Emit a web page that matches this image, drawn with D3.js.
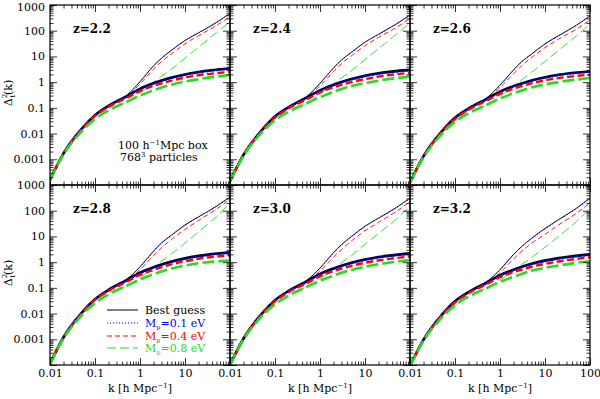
<!DOCTYPE html>
<html>
<head>
<meta charset="utf-8">
<script src="https://d3js.org/d3.v7.min.js"></script>
<style>
  body { margin: 0; background: #fff; }
  text { font-family: "DejaVu Serif", "Liberation Serif", serif; }
</style>
</head>
<body>
<script>
// wavenumbers (h/Mpc) for the linear (thick) and non-linear (thin) curves
const kLin = [0.01, 0.02, 0.05, 0.1, 0.2, 0.5, 1, 2, 5, 20, 100];
const kNL = [0.3, 0.5, 1, 2, 3, 5, 10, 20, 50, 100];
const zLabels = ["z=2.2", "z=2.4", "z=2.6", "z=2.8", "z=3.0", "z=3.2"];
const legendLabels = ["Best guess", "0.1", "0.4", "0.8"];

// linear power, one row per panel
const linBest = [
  [1.6e-4, 1.7e-3, 0.015, 0.052, 0.12, 0.28, 0.55, 0.9, 1.5, 2.5, 3.4],
  [1.4e-4, 1.5e-3, 0.013, 0.046, 0.105, 0.25, 0.48, 0.79, 1.32, 2.2, 3.0],
  [1.25e-4, 1.33e-3, 0.0117, 0.041, 0.094, 0.22, 0.43, 0.7, 1.17, 1.95, 2.6],
  [1.12e-4, 1.2e-3, 0.0105, 0.036, 0.084, 0.2, 0.39, 0.63, 1.05, 1.75, 2.4],
  [1.0e-4, 1.07e-3, 0.0095, 0.033, 0.076, 0.18, 0.35, 0.57, 0.95, 1.58, 2.2],
  [0.92e-4, 0.97e-3, 0.0086, 0.03, 0.068, 0.16, 0.31, 0.51, 0.86, 1.43, 2.0]
];
const linM01 = [
  [1.6e-4, 1.7e-3, 0.015, 0.051, 0.118, 0.275, 0.53, 0.87, 1.45, 2.4, 3.3],
  [1.4e-4, 1.5e-3, 0.013, 0.045, 0.104, 0.24, 0.47, 0.77, 1.28, 2.1, 2.9],
  [1.25e-4, 1.33e-3, 0.0117, 0.04, 0.092, 0.215, 0.41, 0.68, 1.13, 1.87, 2.55],
  [1.12e-4, 1.2e-3, 0.0105, 0.036, 0.083, 0.19, 0.37, 0.61, 1.02, 1.68, 2.3],
  [1.0e-4, 1.07e-3, 0.0095, 0.032, 0.074, 0.17, 0.33, 0.55, 0.91, 1.52, 2.1],
  [0.92e-4, 0.97e-3, 0.0086, 0.029, 0.067, 0.157, 0.3, 0.5, 0.83, 1.37, 1.93]
];
const linM04 = [
  [1.6e-4, 1.65e-3, 0.014, 0.048, 0.108, 0.24, 0.45, 0.72, 1.15, 1.85, 2.5],
  [1.4e-4, 1.45e-3, 0.012, 0.042, 0.095, 0.21, 0.4, 0.63, 1.0, 1.63, 2.3],
  [1.25e-4, 1.29e-3, 0.0109, 0.037, 0.084, 0.19, 0.35, 0.56, 0.9, 1.44, 1.95],
  [1.12e-4, 1.16e-3, 0.0098, 0.034, 0.076, 0.17, 0.32, 0.5, 0.82, 1.35, 1.85],
  [1.0e-4, 1.04e-3, 0.0088, 0.03, 0.068, 0.15, 0.28, 0.45, 0.72, 1.17, 1.65],
  [0.92e-4, 0.94e-3, 0.008, 0.027, 0.062, 0.137, 0.26, 0.41, 0.66, 1.06, 1.55]
];
const linM08 = [
  [1.6e-4, 1.55e-3, 0.012, 0.037, 0.08, 0.17, 0.3, 0.48, 0.8, 1.3, 1.9],
  [1.4e-4, 1.36e-3, 0.0106, 0.033, 0.07, 0.15, 0.26, 0.42, 0.7, 1.14, 1.65],
  [1.25e-4, 1.2e-3, 0.0094, 0.029, 0.062, 0.13, 0.23, 0.37, 0.62, 1.0, 1.45],
  [1.12e-4, 1.08e-3, 0.0084, 0.026, 0.056, 0.12, 0.21, 0.34, 0.56, 0.9, 1.15],
  [1.0e-4, 0.98e-3, 0.0076, 0.023, 0.05, 0.107, 0.19, 0.3, 0.5, 0.82, 1.2],
  [0.92e-4, 0.88e-3, 0.0068, 0.021, 0.046, 0.097, 0.17, 0.27, 0.46, 0.74, 1.1]
];

// non-linear power, one row per panel
const nlBest = [
  [0.18, 0.3, 1.05, 4.3, 8.5, 17.5, 42, 83, 210, 475],
  [0.16, 0.27, 0.9, 3.6, 7.3, 14.5, 36, 73, 185, 410],
  [0.14, 0.24, 0.77, 3.0, 6.2, 12.3, 31, 64, 165, 380],
  [0.12, 0.21, 0.66, 2.7, 5.6, 11.2, 28, 58, 150, 350],
  [0.11, 0.19, 0.59, 2.35, 4.8, 10, 25, 52, 135, 310],
  [0.1, 0.17, 0.51, 2.0, 4.0, 8.4, 20.5, 45, 125, 310]
];
const nlM01 = [
  [0.18, 0.3, 1.03, 4.2, 8.3, 17, 41, 81, 205, 465],
  [0.16, 0.27, 0.88, 3.5, 7.1, 14, 35, 71, 180, 400],
  [0.14, 0.24, 0.75, 2.9, 6.0, 12, 30, 62, 160, 370],
  [0.12, 0.21, 0.64, 2.6, 5.4, 10.8, 27, 56, 145, 340],
  [0.11, 0.19, 0.57, 2.25, 4.6, 9.6, 24, 50, 130, 300],
  [0.1, 0.17, 0.49, 1.9, 3.9, 8, 19.5, 43, 120, 300]
];
const nlM04 = [
  [0.17, 0.27, 0.85, 3.2, 6.3, 12.5, 31, 64, 160, 355],
  [0.15, 0.24, 0.72, 2.6, 5.2, 10.6, 26, 55, 135, 300],
  [0.13, 0.21, 0.62, 2.1, 4.3, 9, 22, 47, 115, 260],
  [0.11, 0.18, 0.51, 1.8, 3.6, 7.6, 18.5, 42, 115, 290],
  [0.1, 0.16, 0.46, 1.57, 3.1, 6.7, 16.5, 35, 95, 225],
  [0.09, 0.14, 0.39, 1.34, 2.6, 5.4, 12, 28, 80, 200]
];
const nlM08 = [
  [0.11, 0.17, 0.38, 1.0, 1.7, 3.2, 8.5, 23, 85, 225],
  [0.1, 0.15, 0.33, 0.85, 1.45, 2.8, 7.5, 20, 74, 200],
  [0.09, 0.13, 0.28, 0.72, 1.2, 2.4, 6.4, 17, 63, 180],
  [0.08, 0.12, 0.25, 0.62, 1.1, 2.1, 5.5, 15, 60, 200],
  [0.07, 0.11, 0.22, 0.55, 0.95, 1.8, 5, 13, 48, 145],
  [0.065, 0.1, 0.2, 0.48, 0.8, 1.5, 3.8, 10, 38, 125]
];

const width = 600, height = 399;
const colX = [50, 230, 410], rowY = [5, 185];
const pw = 180, ph = 180;

const series = [
  {lin: linBest, nl: nlBest, color: "#000000", thick: null, thin: null, tw: 2.6},
  {lin: linM01, nl: nlM01, color: "#0000ff", thick: "2,1.5", thin: "1.2,1.8", tw: 2.2},
  {lin: linM04, nl: nlM04, color: "#ff0000", thick: "7,3.5", thin: "5,3", tw: 2.4},
  {lin: linM08, nl: nlM08, color: "#22dd22", thick: "12,4", thin: "9,4", tw: 2.6}
];

const svg = d3.select("body").append("svg")
  .attr("width", width).attr("height", height);

const decades = d3.range(-4, 3);
const majorY = d3.range(-4, 4).map(p => Math.pow(10, p));
const minorY = decades.flatMap(p => d3.range(2, 10).map(m => m * Math.pow(10, p)));
const majorX = d3.range(-2, 3).map(p => Math.pow(10, p));
const minorX = d3.range(-2, 2).flatMap(p => d3.range(2, 10).map(m => m * Math.pow(10, p)));
const fmt = d => d >= 1 ? String(Math.round(d)) : String(+d.toPrecision(1));

zLabels.forEach((zl, i) => {
  const c = i % 3, r = Math.floor(i / 3);
  const x = d3.scaleLog().domain([0.01, 100]).range([colX[c], colX[c] + pw]);
  const y = d3.scaleLog().domain([1e-4, 1e3]).range([rowY[r] + ph, rowY[r]]);
  const g = svg.append("g");

  g.append("clipPath").attr("id", "clip" + i)
    .append("rect").attr("x", colX[c]).attr("y", rowY[r]).attr("width", pw).attr("height", ph);

  const line = d3.line().x(d => x(d[0])).y(d => y(d[1])).curve(d3.curveMonotoneX);
  const curves = g.append("g").attr("clip-path", "url(#clip" + i + ")");

  // thin non-linear curves
  series.forEach(s => {
    curves.append("path")
      .attr("d", line(kNL.map((k, j) => [k, s.nl[i][j]])))
      .attr("fill", "none").attr("stroke", s.color).attr("stroke-width", 0.9)
      .attr("stroke-dasharray", s.thin);
  });
  // thick linear curves
  series.forEach(s => {
    curves.append("path")
      .attr("d", line(kLin.map((k, j) => [k, s.lin[i][j]])))
      .attr("fill", "none").attr("stroke", s.color).attr("stroke-width", s.tw)
      .attr("stroke-dasharray", s.thick);
  });

  // ticks on all four sides, pointing inward
  const sides = [
    [d3.axisLeft(y), colX[c], 0, majorY, minorY],
    [d3.axisRight(y), colX[c] + pw, 0, majorY, minorY],
    [d3.axisTop(x), 0, rowY[r], majorX, minorX],
    [d3.axisBottom(x), 0, rowY[r] + ph, majorX, minorX]
  ];
  sides.forEach(([ax, tx, ty, maj, min]) => {
    [[maj, 7], [min, 3.5]].forEach(([vals, len]) => {
      const a = g.append("g").attr("transform", `translate(${tx},${ty})`)
        .call(ax.tickValues(vals).tickSize(-len).tickFormat(""));
      a.select(".domain").remove();
      a.selectAll("line").attr("stroke", "#000").attr("stroke-width", 0.8);
    });
  });

  g.append("rect").attr("x", colX[c]).attr("y", rowY[r]).attr("width", pw).attr("height", ph)
    .attr("fill", "none").attr("stroke", "#000").attr("stroke-width", 1.2);

  g.append("text").attr("x", colX[c] + 23).attr("y", rowY[r] + 28)
    .attr("font-size", 12).attr("font-weight", "bold").attr("fill", "#000").text(zl);

  // y tick labels on the left column
  if (c === 0) {
    const a = g.append("g").attr("transform", `translate(${colX[c]},0)`)
      .call(d3.axisLeft(y).tickValues(majorY.filter(v => v > 1e-4)).tickSize(0).tickPadding(5).tickFormat(fmt));
    a.select(".domain").remove();
    a.selectAll("text").attr("font-size", 11).attr("fill", "#000")
      .style("font-family", "'DejaVu Serif', serif");
    if (r === 0) a.selectAll("text").filter(d => d === 1000).attr("dy", "0.5em");
    const yl = g.append("text")
      .attr("transform", `translate(12,${rowY[r] + 88}) rotate(-90)`)
      .attr("text-anchor", "middle").attr("font-size", 11);
    yl.append("tspan").text("Δ");
    yl.append("tspan").attr("font-size", 7).attr("dy", -5).text("2");
    yl.append("tspan").attr("font-size", 7).attr("dx", -4).attr("dy", 8).text("t");
    yl.append("tspan").attr("dy", -3).text("(k)");
  }

  // x tick labels on the bottom row
  if (r === 1) {
    const vals = c === 2 ? majorX : majorX.slice(0, 4);
    const a = g.append("g").attr("transform", `translate(0,${rowY[r] + ph})`)
      .call(d3.axisBottom(x).tickValues(vals).tickSize(0).tickPadding(4).tickFormat(fmt));
    a.select(".domain").remove();
    a.selectAll("text").attr("font-size", 11).attr("fill", "#000")
      .style("font-family", "'DejaVu Serif', serif");
    const xl = g.append("text").attr("x", colX[c] + pw / 2).attr("y", 392)
      .attr("text-anchor", "middle").attr("font-size", 11);
    xl.append("tspan").text("k [h Mpc");
    xl.append("tspan").attr("font-size", 7).attr("dy", -4).text("−1");
    xl.append("tspan").attr("dy", 4).text("]");
  }
});

// box annotation in the first panel
const note1 = svg.append("text").attr("x", 118).attr("y", 149).attr("font-size", 11);
note1.append("tspan").text("100 h");
note1.append("tspan").attr("font-size", 7).attr("dy", -4).text("−1");
note1.append("tspan").attr("dy", 4).text("Mpc box");
const note2 = svg.append("text").attr("x", 120).attr("y", 161).attr("font-size", 11);
note2.append("tspan").text("768");
note2.append("tspan").attr("font-size", 7).attr("dy", -4).text("3");
note2.append("tspan").attr("dy", 4).text(" particles");

// legend in the fourth panel
const legY = [310, 323, 336, 348];
series.forEach((s, j) => {
  svg.append("line").attr("x1", 107).attr("x2", 138).attr("y1", legY[j]).attr("y2", legY[j])
    .attr("stroke", s.color).attr("stroke-width", 1).attr("stroke-dasharray", s.thin);
  const t = svg.append("text").attr("x", 145).attr("y", legY[j] + 4)
    .attr("font-size", 11).attr("fill", s.color);
  if (j === 0) {
    t.text(legendLabels[j]);
  } else {
    t.append("tspan").text("M");
    t.append("tspan").attr("font-size", 7).attr("dy", 3).text("ν");
    t.append("tspan").attr("dy", -3).text("=" + legendLabels[j] + " eV");
  }
});
</script>
</body>
</html>
